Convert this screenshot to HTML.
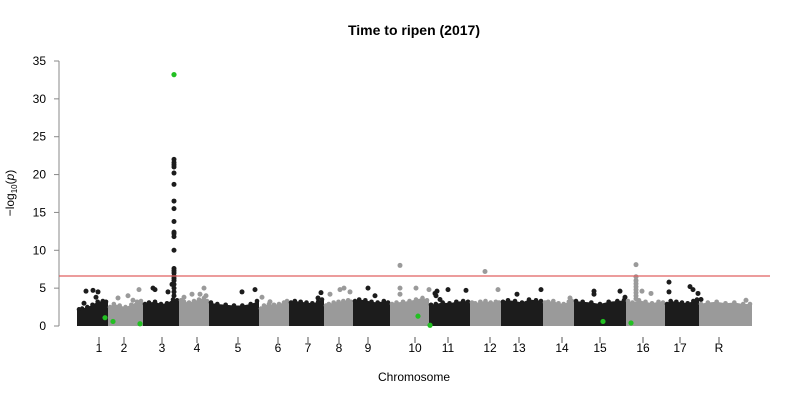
<!DOCTYPE html>
<html><head><meta charset="utf-8"><style>
html,body{margin:0;padding:0;background:#fff;}
svg{display:block;font-family:"Liberation Sans",Arial,sans-serif;}
</style></head><body>
<svg id="chart" width="800" height="400" viewBox="0 0 800 400">
<text x="414" y="35" text-anchor="middle" font-size="14" font-weight="bold">Time to ripen (2017)</text>
<text x="414" y="381" text-anchor="middle" font-size="12">Chromosome</text>
<text transform="translate(14,193) rotate(-90)" text-anchor="middle" font-size="12">−log<tspan font-size="8" dy="3">10</tspan><tspan dy="-3">(</tspan><tspan font-style="italic">p</tspan>)</text>
<g id="marks"></g>
</svg>
<script>
const chrNames=["1","2","3","4","5","6","7","8","9","10","11","12","13","14","15","16","17","R"];
const chrLen=[31,35,36,30,50,30,35,29,37,39,41,31,42,31,52,39,34,53];
const labelPos=[22,16,19,18,29,19,19,15,15,25,19,20,18,19,26,17,15,20];
const bandTops=[[2.2,2.3,2.5,2.8,3.2,3.3,3.2],[2.5,2.9,2.7,2.5,2.8,3.2,3.3],[2.9,3.1,3.2,2.9,3.0,3.5,3.4],[3.4,3.2,3.1,3.3,3.5,3.7,3.3],[3.1,2.9,2.8,2.7,2.7,2.9,3.3],[2.3,2.7,2.9,2.8,2.9,3.1,3.3],[3.1,3.3,3.2,3.1,3.0,3.2,3.5],[2.7,2.9,3.1,3.2,3.3,3.4,3.2],[3.3,3.5,3.4,3.2,3.1,3.3,3.1],[2.9,3.1,3.2,3.3,3.5,3.7,3.4],[2.8,2.9,3.1,3.0,3.2,3.3,3.2],[3.1,3.0,3.2,3.3,3.1,3.2,3.1],[3.2,3.4,3.3,3.1,3.5,3.4,3.3],[3.1,3.2,3.3,3.0,2.9,3.2,3.3],[3.3,3.2,3.1,2.9,3.2,3.3,3.4],[3.3,3.1,3.4,3.2,3.0,3.2,3.1],[2.9,3.3,3.2,3.1,3.0,3.3,3.5],[2.9,3.1,3.2,3.0,3.1,2.9,2.9]];
// per-chromosome peak positions and values
const peakPos=[
 [7,9,16,21,19],
 [10,20,31,25],
 [10,12,25,29,31,31,31,31,31,31,31,31,31,31,31,31,31,31,31,31,31,31,31,31,31,31,31],
 [5,13,21,25,27],
 [33,46],
 [3,11],
 [32,29],
 [6,20,26,16],
 [15,22],
 [10,10,10,26,39],
 [7,8,19,11,37,6],
 [15,28],
 [16,40],
 [27],
 [20,20,46,51],
 [10,10,10,10,10,10,10,10,10,16,25],
 [4,4,25,28,33,36],
 [47]];
const peakVal=[
 [3.0,4.6,4.7,4.5,3.8],
 [3.7,4.0,4.8,3.4],
 [5.0,4.8,4.5,5.5,4.0,4.5,5.0,5.5,6.0,6.3,6.6,7.0,7.3,7.6,10.0,11.8,12.2,12.4,13.8,15.5,16.5,18.7,20.2,21.0,21.3,21.6,22.0],
 [3.8,4.2,4.2,5.0,4.0],
 [4.5,4.8],
 [3.8,3.2],
 [4.4,3.7],
 [4.2,5.0,4.5,4.8],
 [5.0,4.0],
 [8.0,5.0,4.2,5.0,4.8],
 [4.0,4.6,4.8,3.5,4.7,4.3],
 [7.2,4.8],
 [4.2,4.8],
 [3.7],
 [4.6,4.2,4.6,3.8],
 [3.6,4.0,4.4,4.8,5.2,5.6,6.0,6.5,8.1,4.6,4.3],
 [5.8,4.5,5.2,4.8,4.3,3.5],
 [3.4]];
const hitChr=[0,1,1,2,9,10,14,15];
const hitPos=[28,5,32,31,28,1,29,5];
const hitVal=[1.1,0.6,0.3,33.2,1.3,0.1,0.6,0.4];
const yTicks=[0,5,10,15,20,25,30,35];
const threshold=6.6;

const NS="http://www.w3.org/2000/svg";
const svg=document.getElementById('chart');
const g=document.getElementById('marks');
const X0=77,Y0=326,YS=(326-61)/35;
const starts=[];let acc=0;for(const l of chrLen){starts.push(acc);acc+=l;}
const xs=(c,p)=>X0+starts[c]+p;
const ys=v=>Y0-v*YS;
function el(t,a){const e=document.createElementNS(NS,t);for(const k in a)e.setAttribute(k,a[k]);return e;}
const ax=el('line',{x1:59,y1:ys(0),x2:59,y2:ys(35),stroke:'#888'});


svg.appendChild(ax);
yTicks.forEach(t=>{
 const l=el('line',{x1:54,x2:59,y1:ys(t),y2:ys(t),stroke:'#888'});
 
 
 svg.appendChild(l);
 const tx=el('text',{x:46,y:ys(t)+4,'text-anchor':'end','font-size':12});
 
 
 tx.textContent=t;svg.appendChild(tx);
});
chrNames.forEach((n,c)=>{
 const col=c%2===0?'#1c1c1c':'#9a9a9a';
 const tops=bandTops[c];const L=chrLen[c];
 let pts=[[xs(c,0),ys(0)]];
 tops.forEach((h,i)=>pts.push([xs(c,i*L/(tops.length-1)),ys(h)]));
 pts.push([xs(c,L),ys(0)]);
 const poly=el('polygon',{points:pts.map(p=>p.join(',')).join(' '),fill:col});
 
 
 g.appendChild(poly);
 tops.forEach((h,i)=>{const cc=el('circle',{cx:xs(c,Math.min(Math.max(i*L/(tops.length-1),2),L-2)),cy:ys(h),r:2.3,fill:col});
  
  
  g.appendChild(cc);});
 peakPos[c].forEach((p,i)=>{
  const cc=el('circle',{cx:xs(c,p),cy:ys(peakVal[c][i]),r:2.5,fill:col});
  
  
  g.appendChild(cc);
 });
 const tx=xs(c,labelPos[c]);
 const tk=el('line',{x1:tx,x2:tx,y1:337,y2:343,stroke:'#555'});
 
 
 svg.appendChild(tk);
 const lb=el('text',{x:tx,y:352,'text-anchor':'middle','font-size':12});
 
 
 lb.textContent=n;svg.appendChild(lb);
});
const tl=el('line',{x1:59,x2:770,y1:ys(threshold),y2:ys(threshold),stroke:'#e06060','stroke-width':1.2});


svg.appendChild(tl);
hitChr.forEach((c,i)=>{
 const cc=el('circle',{cx:xs(c,hitPos[i]),cy:ys(hitVal[i]),r:2.6,fill:'#22c022'});
 
 
 svg.appendChild(cc);
});
</script>
</body></html>
